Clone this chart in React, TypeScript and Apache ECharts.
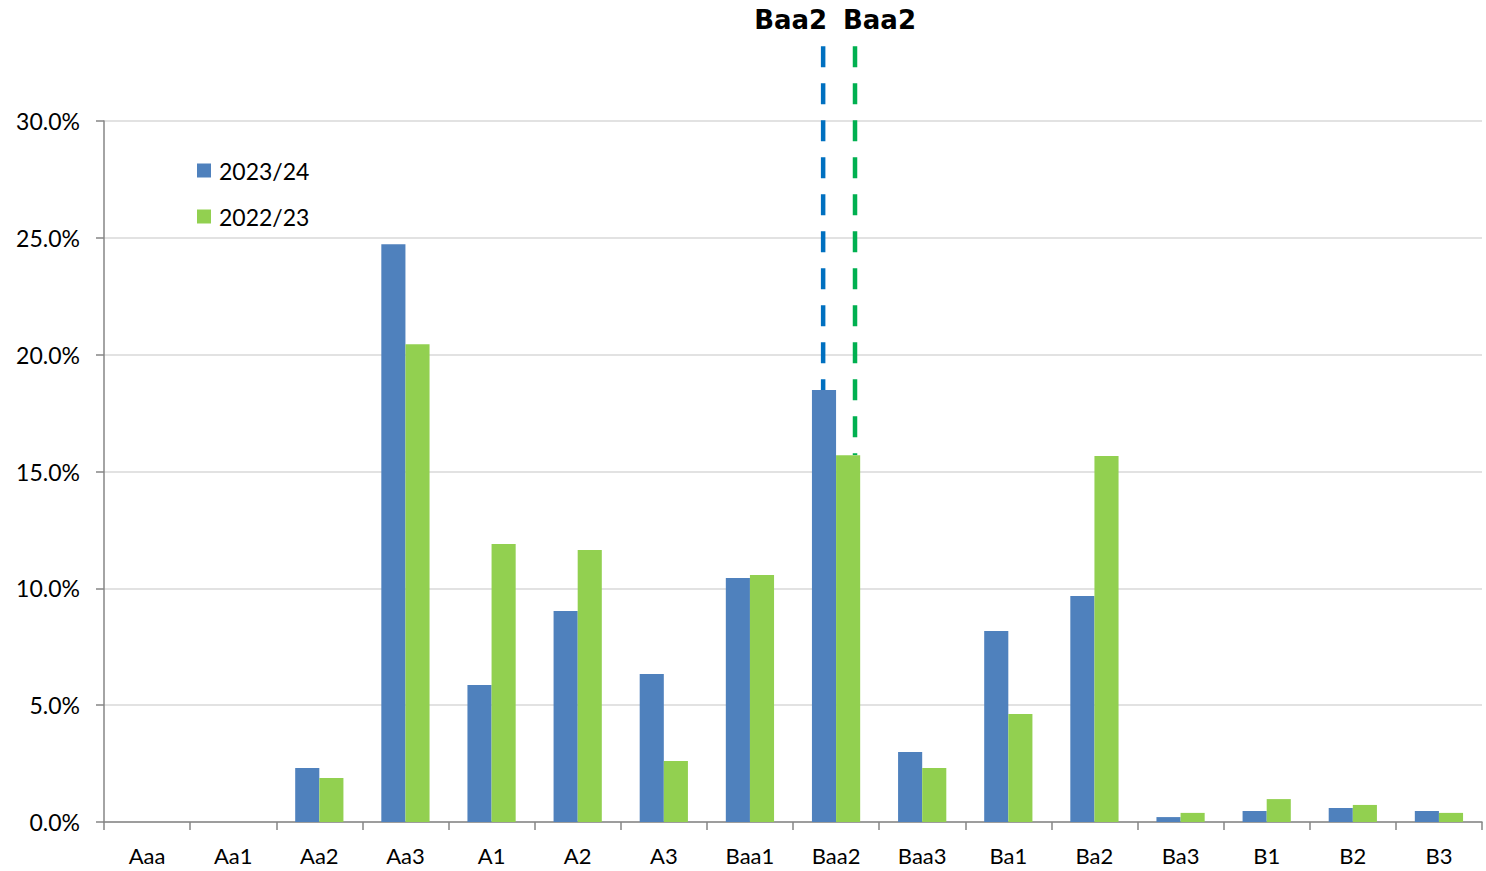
import React, { useEffect, useRef } from "react";
import * as echarts from "echarts";

const categories = ["Aaa", "Aa1", "Aa2", "Aa3", "A1", "A2", "A3", "Baa1", "Baa2", "Baa3", "Ba1", "Ba2", "Ba3", "B1", "B2", "B3"];
const series2324 = [0, 0, 2.31, 24.73, 5.86, 9.03, 6.33, 10.44, 18.49, 3.0, 8.17, 9.67, 0.21, 0.47, 0.6, 0.47];
const series2223 = [0, 0, 1.88, 20.45, 11.9, 11.64, 2.61, 10.57, 15.7, 2.31, 4.62, 15.66, 0.39, 0.98, 0.73, 0.39];
const seriesNames = ["2023/24", "2022/23"];
// average rating marker positions (category index, fractional) and label
const avgRatingPos = [7.85, 8.22];
const avgRatingLabel = ["Baa2", "Baa2"];
const avgLineTop = 33.2; // in % units, above the axis top
const yTicks = { min: 0, max: 30, interval: 5 };

const barColors = ["#4F81BD", "#92D050"];
const lineColors = ["#0070C0", "#00B050"];
const FONT = "Lato";

export default function App() {
  const ref = useRef<HTMLDivElement>(null);
  useEffect(() => {
    if (!ref.current) return;
    const chart = echarts.init(ref.current, null, { renderer: "svg" });
    chart.setOption({
      animation: false,
      grid: { left: 104, right: 4, top: 121, bottom: 49 },
      legend: {
        orient: "vertical",
        left: 192,
        top: 154,
        itemWidth: 14,
        itemHeight: 14,
        itemGap: 23,
        icon: "rect",
        textStyle: { fontFamily: FONT, fontSize: 23, color: "#000", padding: [0, 0, 0, 3] },
        data: seriesNames,
      },
      xAxis: {
        type: "category",
        data: categories,
        axisLine: { lineStyle: { color: "#868686", width: 1.5 } },
        axisTick: { show: true, length: 8, alignWithLabel: false, lineStyle: { color: "#868686", width: 1.5 } },
        axisLabel: { fontFamily: FONT, fontSize: 22, color: "#000", margin: 22 },
      },
      yAxis: {
        type: "value",
        min: yTicks.min,
        max: yTicks.max,
        interval: yTicks.interval,
        axisLine: { show: true, lineStyle: { color: "#868686", width: 1.5 } },
        axisTick: { show: true, length: 8, inside: false, lineStyle: { color: "#868686", width: 1.5 } },
        splitLine: { lineStyle: { color: "#D9D9D9", width: 1.5 } },
        axisLabel: { fontFamily: FONT, fontSize: 23, color: "#000", margin: 24, formatter: (v: number) => v.toFixed(1) + "%" },
      },
      series: [
        { name: seriesNames[0], type: "bar", data: series2324, itemStyle: { color: barColors[0] }, barWidth: "28%", barGap: "0%", z: 5 },
        { name: seriesNames[1], type: "bar", data: series2223, itemStyle: { color: barColors[1] }, barWidth: "28%", barGap: "0%", z: 5 },
      ],
    });

    const seriesData = [series2324, series2223];
    const graphics: any[] = [];
    avgRatingPos.forEach((pos, i) => {
      const i0 = Math.floor(pos);
      const frac = pos - i0;
      const p0 = chart.convertToPixel({ xAxisIndex: 0, yAxisIndex: 0 }, [i0, 0]) as number[];
      const p1 = chart.convertToPixel({ xAxisIndex: 0, yAxisIndex: 0 }, [i0 + 1, 0]) as number[];
      const x = p0[0] + (p1[0] - p0[0]) * frac;
      const yTop = (chart.convertToPixel({ yAxisIndex: 0 }, avgLineTop) as number);
      const yBot = (chart.convertToPixel({ yAxisIndex: 0 }, seriesData[i][Math.round(pos)]) as number);
      graphics.push({
        type: "line",
        z: 1,
        shape: { x1: x, y1: yTop, x2: x, y2: yBot },
        style: { stroke: lineColors[i], lineWidth: 4.5, lineDash: [21, 16] },
      });
      graphics.push({
        type: "text",
        z: 10,
        x: i === 0 ? x + 4 : x - 12,
        y: 20,
        style: {
          text: avgRatingLabel[i],
          fontFamily: "DejaVu Sans",
          fontWeight: "bold",
          fontSize: 26,
          fill: "#000",
          align: i === 0 ? "right" : "left",
          verticalAlign: "middle",
        },
      });
    });
    chart.setOption({ graphic: graphics });

    return () => chart.dispose();
  }, []);
  return <div ref={ref} style={{ width: 1486, height: 871, position: "absolute", left: 0, top: 0 }} />;
}
